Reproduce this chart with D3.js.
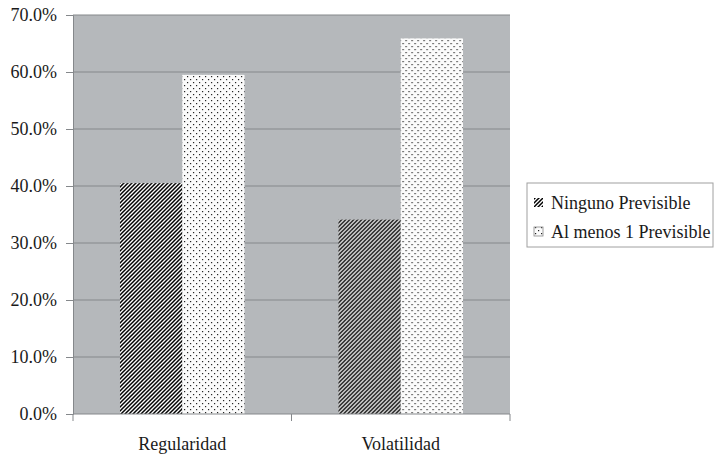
<!DOCTYPE html>
<html>
<head>
<meta charset="utf-8">
<script src="https://cdn.jsdelivr.net/npm/d3@7"></script>
<style>
  html, body { margin: 0; padding: 0; background: #ffffff; }
  svg { display: block; }
</style>
</head>
<body>
<svg id="chart" width="714" height="457"></svg>
<script>
// Categories, series and tick labels
const categories = ["Regularidad", "Volatilidad"];
const seriesNames = ["Ninguno Previsible", "Al menos 1 Previsible"];
const ningunoValues = [0.405, 0.341];
const alMenosValues = [0.595, 0.659];
const yTicks = [0, 0.1, 0.2, 0.3, 0.4, 0.5, 0.6, 0.7];

const FONT = "Liberation Serif";
const TEXT_COLOR = "#1a1a1a";
const svg = d3.select("#chart");
const margin = { left: 73, right: 204, top: 15, bottom: 43 };
const width = 714, height = 457;
const plotW = width - margin.left - margin.right;
const plotH = height - margin.top - margin.bottom;

// Fill patterns: black diagonal hatch and sparse dots
const defs = svg.append("defs");
const hatch = defs.append("pattern")
  .attr("id", "hatch").attr("patternUnits", "userSpaceOnUse")
  .attr("width", 4).attr("height", 4);
hatch.append("rect").attr("width", 4).attr("height", 4).attr("fill", "#ffffff");
hatch.append("path")
  .attr("d", "M-1,1 l2,-2 M0,4 l4,-4 M3,5 l2,-2")
  .attr("stroke", "#000").attr("stroke-width", 1.5);

const dots = defs.append("pattern")
  .attr("id", "dots").attr("patternUnits", "userSpaceOnUse")
  .attr("width", 6).attr("height", 6);
dots.append("rect").attr("width", 6).attr("height", 6).attr("fill", "#fbfbfb");
dots.append("rect").attr("x", 1).attr("y", 1).attr("width", 1.2).attr("height", 1.2).attr("fill", "#222");
dots.append("rect").attr("x", 4).attr("y", 4).attr("width", 1.2).attr("height", 1.2).attr("fill", "#222");

const g = svg.append("g").attr("transform", `translate(${margin.left},${margin.top})`);

const x0 = d3.scaleBand().domain(categories).range([0, plotW]).paddingInner(0.43).paddingOuter(0.215);
const x1 = d3.scaleBand().domain(seriesNames).range([0, x0.bandwidth()]);
const y = d3.scaleLinear().domain([0, 0.7]).range([plotH, 0]);

// Plot background
g.append("rect").attr("width", plotW).attr("height", plotH).attr("fill", "#b5b8bb");

// Horizontal gridlines
g.append("g").selectAll("line").data(yTicks.slice(1)).join("line")
  .attr("x1", 0).attr("x2", plotW)
  .attr("y1", d => y(d)).attr("y2", d => y(d))
  .attr("stroke", "#85888b").attr("stroke-width", 1);

// Bars
const rows = categories.map((c, i) => ({ cat: c, vals: [ningunoValues[i], alMenosValues[i]] }));
const fills = ["url(#hatch)", "url(#dots)"];
g.append("g").selectAll("g").data(rows).join("g")
  .attr("transform", d => `translate(${x0(d.cat)},0)`)
  .selectAll("rect").data(d => d.vals.map((v, j) => ({ v, j })))
  .join("rect")
  .attr("x", d => x1(seriesNames[d.j]))
  .attr("width", x1.bandwidth())
  .attr("y", d => y(d.v))
  .attr("height", d => plotH - y(d.v))
  .attr("fill", d => fills[d.j]);

// Y axis
const yAxis = g.append("g")
  .call(d3.axisLeft(y).tickValues(yTicks).tickFormat(d3.format(".1%")).tickSize(7).tickPadding(9))
  .attr("font-family", FONT).attr("font-size", 18);
yAxis.select(".domain").attr("stroke", "#85888b");
yAxis.selectAll(".tick line").attr("stroke", "#85888b");
yAxis.selectAll("text").attr("font-family", FONT).attr("font-size", 18).attr("fill", TEXT_COLOR);

// X axis with ticks at category boundaries
const xAxisG = g.append("g").attr("transform", `translate(0,${plotH})`);
xAxisG.append("line").attr("x1", 0).attr("x2", plotW).attr("stroke", "#85888b");
const bounds = [0, plotW / 2, plotW];
xAxisG.selectAll(".bt").data(bounds).join("line").attr("class", "bt")
  .attr("x1", d => d).attr("x2", d => d).attr("y1", 0).attr("y2", 7)
  .attr("stroke", "#85888b");
xAxisG.selectAll(".cl").data(categories).join("text").attr("class", "cl")
  .attr("x", d => x0(d) + x0.bandwidth() / 2)
  .attr("y", 36)
  .attr("text-anchor", "middle")
  .attr("font-family", FONT).attr("font-size", 18).attr("fill", TEXT_COLOR)
  .text(d => d);

// Legend
const leg = svg.append("g").attr("transform", "translate(527,183)");
leg.append("rect").attr("width", 186).attr("height", 64)
  .attr("fill", "#ffffff").attr("stroke", "#a0a0a0");
const items = leg.selectAll(".li").data(seriesNames).join("g").attr("class", "li")
  .attr("transform", (d, i) => `translate(7,${20 + i * 29})`);
items.append("rect").attr("x", 0).attr("y", -5).attr("width", 9).attr("height", 9)
  .attr("fill", (d, i) => fills[i])
  .attr("stroke", (d, i) => i === 1 ? "#888" : "none").attr("stroke-width", 0.8);
items.append("text").attr("x", 17).attr("y", 6)
  .attr("font-family", FONT).attr("font-size", 18).attr("fill", TEXT_COLOR)
  .text(d => d);
</script>
</body>
</html>
